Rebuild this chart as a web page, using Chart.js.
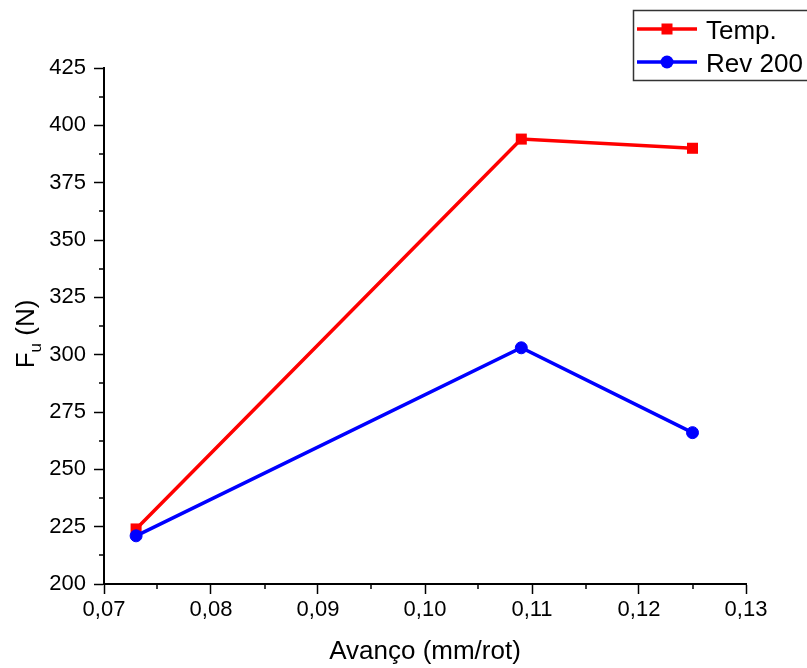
<!DOCTYPE html>
<html>
<head>
<meta charset="utf-8">
<script src="https://cdn.jsdelivr.net/npm/chart.js@4/dist/chart.umd.min.js"></script>
<style>
html,body{margin:0;padding:0;background:#fff;}
canvas{display:block;}
</style>
</head>
<body>
<canvas id="c" width="807" height="668"></canvas>
<script>
const xValues = [0.073, 0.109, 0.125];
const tempValues = [224, 394, 390];
const revValues = [221, 303, 266];
const seriesLabels = ['Temp.', 'Rev 200'];
const xTickValues = [0.07, 0.08, 0.09, 0.10, 0.11, 0.12, 0.13];
const yTickValues = [200, 225, 250, 275, 300, 325, 350, 375, 400, 425];
const xMinorTicks = [0.075, 0.085, 0.095, 0.105, 0.115, 0.125];
const yMinorTicks = [212.5, 237.5, 262.5, 287.5, 312.5, 337.5, 362.5, 387.5, 412.5];

const FONT = '"Liberation Sans", Arial, sans-serif';

const toPts = (ys) => xValues.map((x, i) => ({x: x, y: ys[i]}));

const extras = {
  id: 'extras',
  afterDraw(chart) {
    const ctx = chart.ctx;
    const xs = chart.scales.x, ys = chart.scales.y;
    const ca = chart.chartArea;
    ctx.save();
    // minor ticks
    ctx.strokeStyle = '#000';
    ctx.lineWidth = 1.5;
    ctx.beginPath();
    xMinorTicks.forEach(v => {
      const px = Math.round(xs.getPixelForValue(v));
      ctx.moveTo(px, ca.bottom); ctx.lineTo(px, ca.bottom + 5);
    });
    yMinorTicks.forEach(v => {
      const py = Math.round(ys.getPixelForValue(v));
      ctx.moveTo(ca.left, py); ctx.lineTo(ca.left - 5, py);
    });
    ctx.stroke();

    // x title
    ctx.fillStyle = '#000';
    ctx.font = '26px ' + FONT;
    ctx.textAlign = 'center';
    ctx.textBaseline = 'alphabetic';
    ctx.fillText('Avanço (mm/rot)', (ca.left + ca.right) / 2, 659);

    // y title with subscript
    ctx.save();
    ctx.translate(34, (ca.top + ca.bottom) / 2 + 8);
    ctx.rotate(-Math.PI / 2);
    const f1 = '26px ' + FONT, f2 = '17px ' + FONT;
    ctx.font = f1; const wF = ctx.measureText('F').width;
    ctx.font = f2; const wu = ctx.measureText('u').width;
    ctx.font = f1; const wN = ctx.measureText(' (N)').width;
    let x0 = -(wF + wu + wN) / 2;
    ctx.textAlign = 'left';
    ctx.font = f1; ctx.fillText('F', x0, 0); x0 += wF;
    ctx.font = f2; ctx.fillText('u', x0, 7); x0 += wu;
    ctx.font = f1; ctx.fillText(' (N)', x0, 0);
    ctx.restore();

    // legend
    ctx.lineWidth = 1.5;
    ctx.strokeStyle = '#333';
    ctx.strokeRect(633.5, 10.5, 200, 70);
    const rows = [
      {y: 29, base: 39, color: '#ff0000', style: 'rect', label: chart.data.datasets[0].label},
      {y: 62, base: 72, color: '#0000ff', style: 'circle', label: chart.data.datasets[1].label}
    ];
    rows.forEach(r => {
      ctx.strokeStyle = r.color;
      ctx.lineWidth = 3.5;
      ctx.beginPath();
      ctx.moveTo(637, r.y); ctx.lineTo(697, r.y);
      ctx.stroke();
      ctx.fillStyle = r.color;
      if (r.style === 'rect') {
        ctx.fillRect(667 - 5.5, r.y - 5.5, 11, 11);
      } else {
        ctx.beginPath(); ctx.arc(667, r.y, 6.5, 0, Math.PI * 2); ctx.fill();
      }
      ctx.fillStyle = '#000';
      ctx.font = '26px ' + FONT;
      ctx.textAlign = 'left';
      ctx.fillText(r.label, 706, r.base);
    });
    ctx.restore();
  }
};

new Chart(document.getElementById('c'), {
  type: 'line',
  data: {
    datasets: [
      {
        label: seriesLabels[0],
        data: toPts(tempValues),
        borderColor: '#ff0000',
        backgroundColor: '#ff0000',
        borderWidth: 3.5,
        pointStyle: 'rect',
        pointRadius: 7.8,
        pointBorderWidth: 0,
        order: 2
      },
      {
        label: seriesLabels[1],
        data: toPts(revValues),
        borderColor: '#0000ff',
        backgroundColor: '#0000ff',
        borderWidth: 3.5,
        pointStyle: 'circle',
        pointRadius: 6,
        pointBorderWidth: 1,
        order: 1
      }
    ]
  },
  options: {
    responsive: false,
    animation: false,
    events: [],
    layout: {padding: {top: 68, right: 61, left: 0, bottom: 0}},
    plugins: {legend: {display: false}, tooltip: {enabled: false}},
    scales: {
      x: {
        type: 'linear',
        min: 0.07, max: 0.13,
        afterBuildTicks: (s) => { s.ticks = xTickValues.map(v => ({value: v})); },
        afterFit: (s) => { s.height = 84; },
        ticks: {
          color: '#000',
          font: {family: FONT, size: 22},
          padding: 3,
          maxRotation: 0,
          callback: (v) => Number(v).toFixed(2).replace('.', ',')
        },
        grid: {drawOnChartArea: false, tickLength: 10, tickWidth: 1.5, tickColor: '#000'},
        border: {color: '#000', width: 2}
      },
      y: {
        type: 'linear',
        min: 200, max: 425,
        afterBuildTicks: (s) => { s.ticks = yTickValues.map(v => ({value: v})); },
        afterFit: (s) => { s.width = 104; },
        ticks: {
          color: '#000',
          font: {family: FONT, size: 22},
          padding: 8,
          callback: (v) => String(v)
        },
        grid: {drawOnChartArea: false, tickLength: 10, tickWidth: 1.5, tickColor: '#000'},
        border: {color: '#000', width: 2}
      }
    }
  },
  plugins: [extras]
});
</script>
</body>
</html>
